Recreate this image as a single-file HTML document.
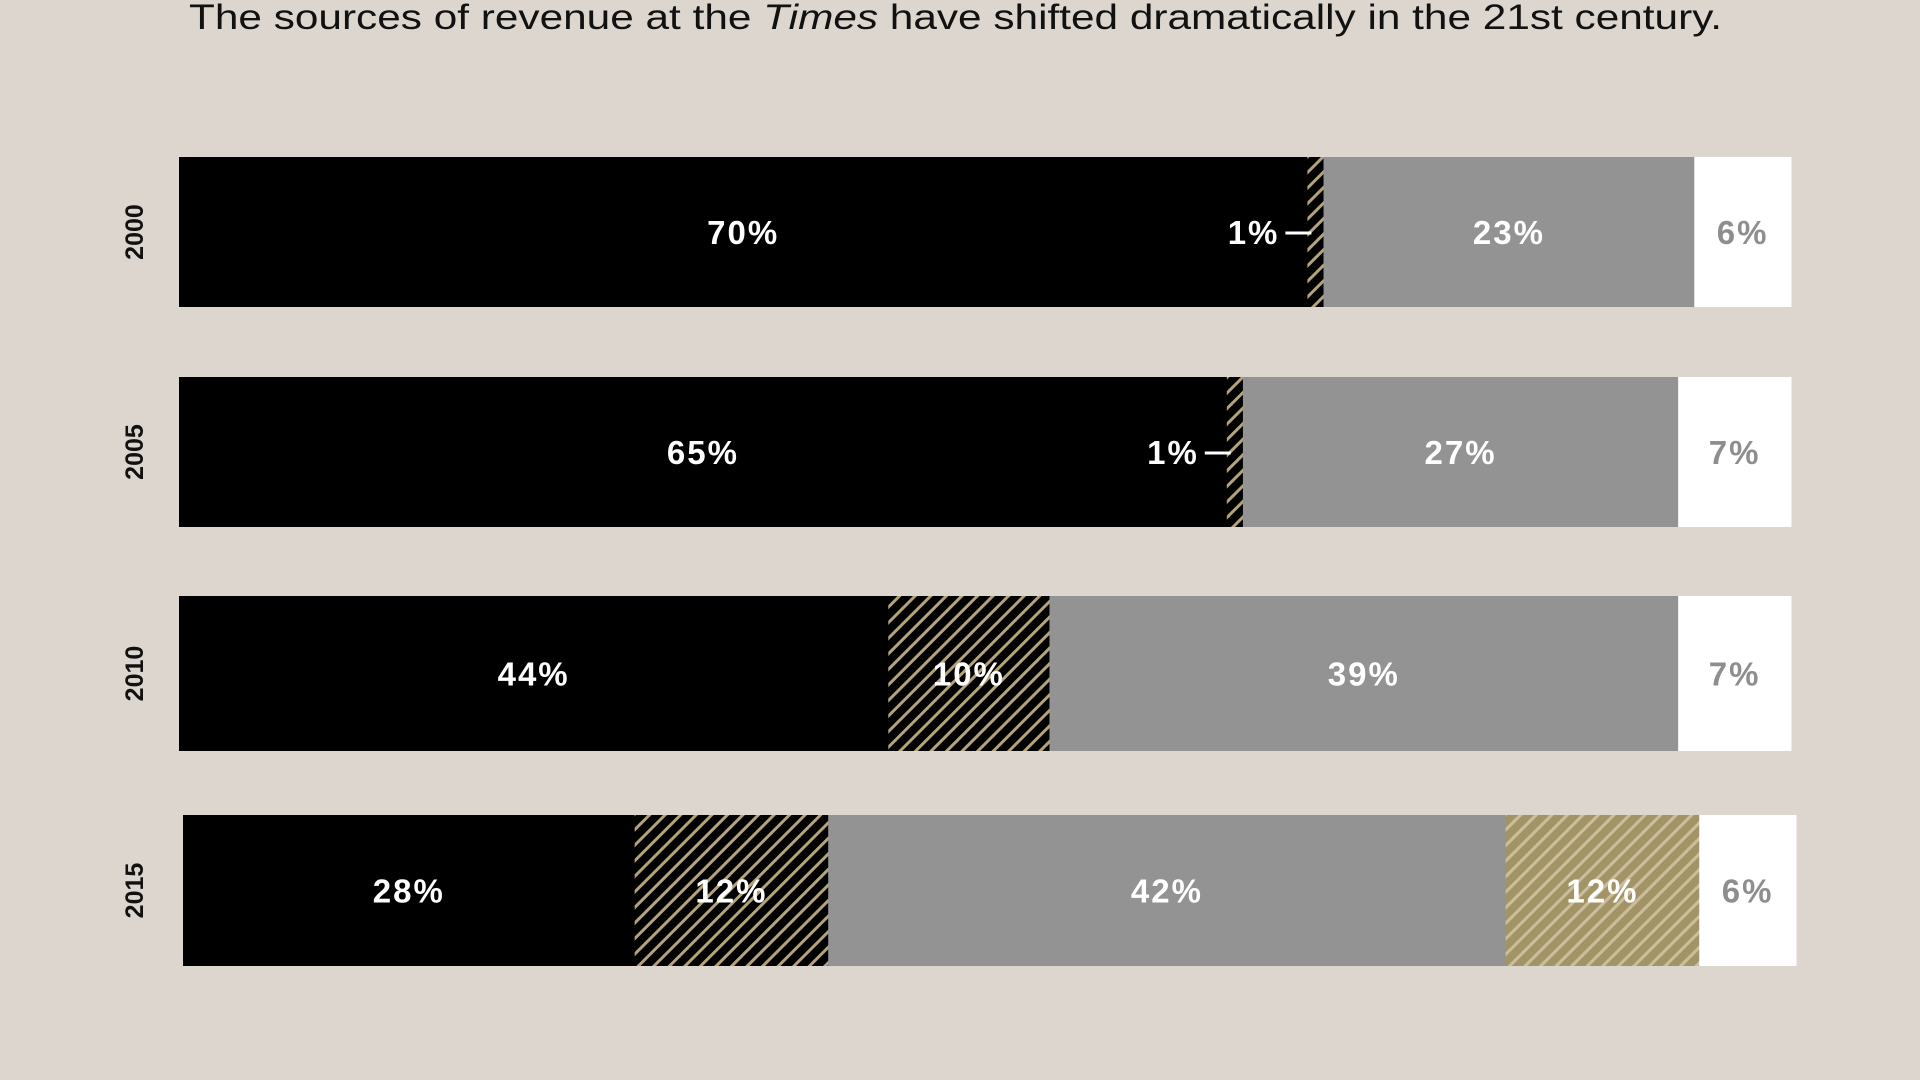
<!DOCTYPE html>
<html><head><meta charset="utf-8"><style>
html,body{margin:0;padding:0;background:#ddd6cf;}
svg{display:block;}
</style></head><body>
<svg id="chart" width="1920" height="1080" viewBox="0 0 1920 1080" xmlns="http://www.w3.org/2000/svg">
<defs>
<pattern id="hatchDark" patternUnits="userSpaceOnUse" width="11" height="11" patternTransform="rotate(-45)">
<rect width="11" height="11" fill="#000"/><rect width="11" height="3" fill="#b3a37a"/>
</pattern>
<pattern id="hatchGold" patternUnits="userSpaceOnUse" width="11" height="11" patternTransform="rotate(-45)">
<rect width="11" height="11" fill="#a39468"/><rect width="11" height="3" fill="#cbbf9b"/>
</pattern>
</defs>
<rect width="1920" height="1080" fill="#ddd6cf"/>
<text x="189" y="29" font-family="Liberation Sans, sans-serif" font-size="35" fill="#111" textLength="1533" lengthAdjust="spacingAndGlyphs">The sources of revenue at the <tspan font-style="italic">Times</tspan> have shifted dramatically in the 21st century.</text>
<g id="bars"></g>
</svg>
<script>
const years = ["2000","2005","2010","2015"];
const printAds = [70,65,44,28];
const digitalAds = [1,1,10,12];
const circulation = [23,27,39,42];
const digitalSubs = [0,0,0,12];
const other = [6,7,7,6];

const series = [
 {name:"print-ads", vals:printAds, fill:"#000", text:"#fff"},
 {name:"digital-ads", vals:digitalAds, fill:"url(#hatchDark)", text:"#fff"},
 {name:"circulation", vals:circulation, fill:"#939393", text:"#fff"},
 {name:"digital-subs", vals:digitalSubs, fill:"url(#hatchGold)", text:"#fff"},
 {name:"other", vals:other, fill:"#fff", text:"#8e8e8e"}
];
const rowTop = [157,377,596,815];
const rowH = [150,150,155,151];
const x0 = [179,179,179,183], x1 = [1791,1791,1791,1796];
const NS="http://www.w3.org/2000/svg";
const g=document.getElementById('bars');
function mk(t,a){const e=document.createElementNS(NS,t);for(const k in a)e.setAttribute(k,a[k]);return e;}
years.forEach((y,i)=>{
  const total = series.reduce((s,se)=>s+se.vals[i],0);
  const sx = v => (x1[i]-x0[i])*v/total;
  const yl = mk('text',{x:0,y:0,transform:`translate(143,${rowTop[i]+rowH[i]/2}) rotate(-90)`,'text-anchor':'middle','font-family':'Liberation Sans, sans-serif','font-size':'25','font-weight':'bold',fill:'#111'});
  
  
  yl.textContent=y; g.appendChild(yl);
  let x=x0[i];
  series.forEach(se=>{
    const v=se.vals[i]; if(!v) return;
    const w=sx(v);
    const r=mk('rect',{x:x,y:rowTop[i],width:w+0.5,height:rowH[i],fill:se.fill});
    
    
    g.appendChild(r);
    const cy=rowTop[i]+rowH[i]/2+12;
    const t=mk('text',{y:cy,'font-family':'Liberation Sans, sans-serif','font-size':'33','font-weight':'bold','letter-spacing':'2',fill:se.text});
    
    
    t.textContent=v+'%';
    if(w<40){
      t.setAttribute('x',x-28); t.setAttribute('text-anchor','end');
      const a=mk('line',{x1:x-22,y1:cy-11,x2:x+4,y2:cy-11,stroke:'#fff','stroke-width':3});
      
      
      g.appendChild(a);
    } else {
      t.setAttribute('x',x+w/2); t.setAttribute('text-anchor','middle');
    }
    g.appendChild(t);
    x+=w;
  });
});
</script>
</body></html>
